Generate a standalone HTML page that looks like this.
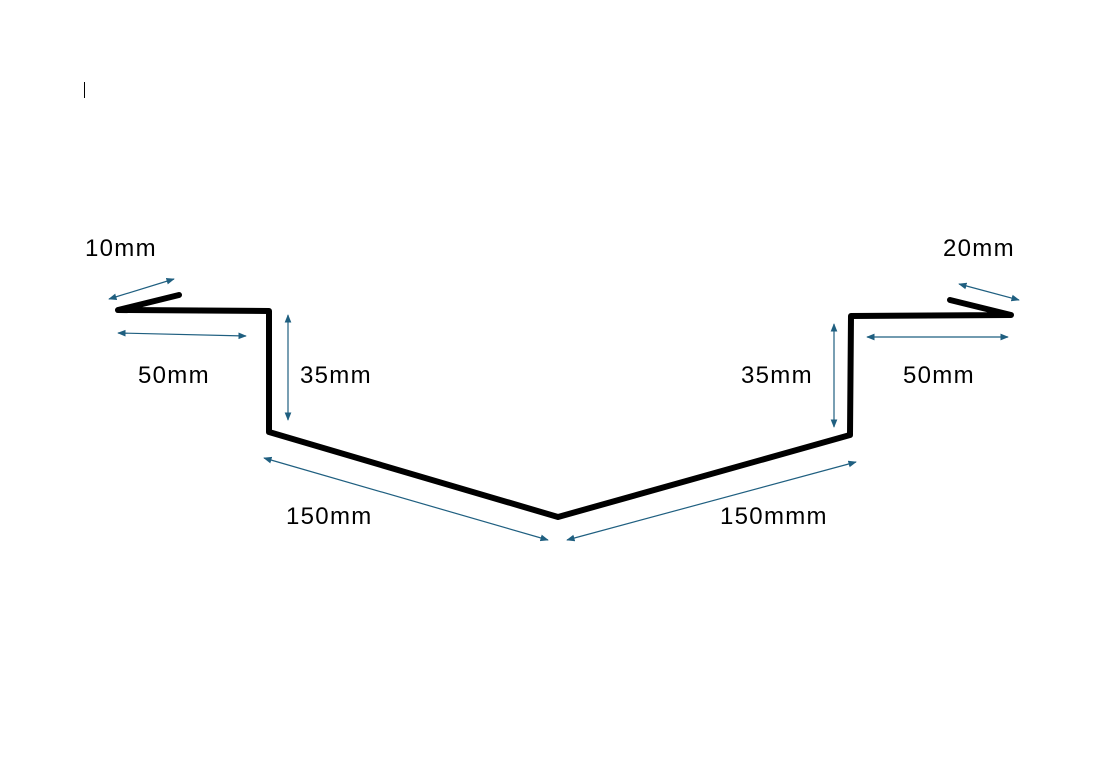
<!DOCTYPE html>
<html><head><style>html,body{margin:0;padding:0;background:#fff}svg{display:block}</style></head>
<body>
<svg width="1101" height="777" viewBox="0 0 1101 777" xmlns="http://www.w3.org/2000/svg">
<defs>
<marker id="a" viewBox="0 0 10 10" refX="9" refY="5" markerWidth="7" markerHeight="7" orient="auto-start-reverse"><path d="M0,1 L10,5 L0,9 z" fill="#1f5f80"/></marker>
</defs>
<line x1="84.5" y1="82" x2="84.5" y2="98" stroke="#000" stroke-width="1"/>
<polyline points="179,295 118,310 269,311 269,432 558,517 850,435 851,316 1011,315 950,300" fill="none" stroke="#000" stroke-width="6" stroke-linejoin="round" stroke-linecap="round"/>
<g stroke="#1f5f80" stroke-width="1.2" marker-start="url(#a)" marker-end="url(#a)">
<line x1="109" y1="299" x2="174" y2="279"/>
<line x1="118" y1="333" x2="246" y2="336"/>
<line x1="288" y1="315" x2="288" y2="420"/>
<line x1="264" y1="458" x2="548" y2="540"/>
<line x1="567" y1="540" x2="856" y2="462"/>
<line x1="834" y1="324" x2="834" y2="427"/>
<line x1="867" y1="337" x2="1008" y2="337"/>
<line x1="959" y1="284" x2="1019" y2="300"/>
</g>
<g font-family="Liberation Sans, sans-serif" font-size="24" fill="#000" letter-spacing="1.3">
<text x="85" y="256">10mm</text>
<text x="943" y="256">20mm</text>
<text x="138" y="383">50mm</text>
<text x="300" y="383">35mm</text>
<text x="741" y="383">35mm</text>
<text x="903" y="383">50mm</text>
<text x="286" y="524">150mm</text>
<text x="720" y="524">150mmm</text>
</g>
</svg>
</body></html>
